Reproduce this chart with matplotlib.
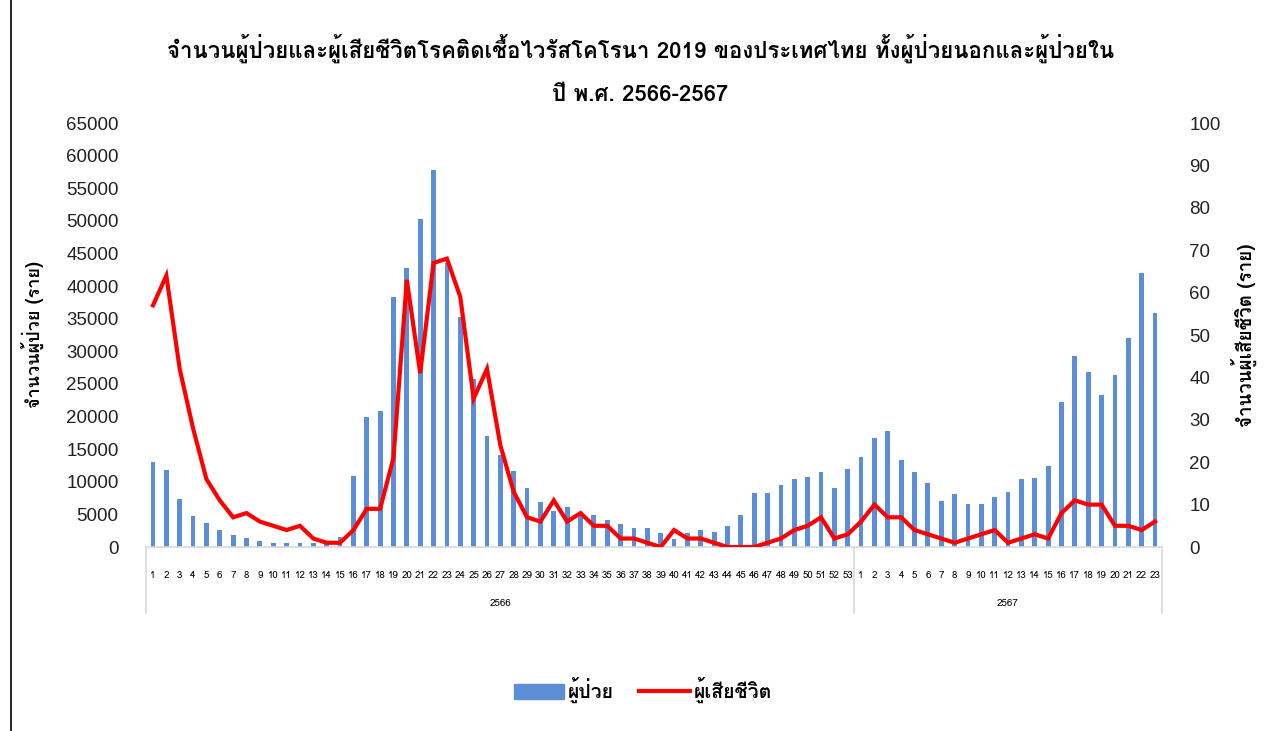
import matplotlib
matplotlib.use('Agg')
import matplotlib.pyplot as plt
import matplotlib.transforms as mtransforms
from matplotlib import font_manager
from fontTools.ttLib import TTFont

# หาฟอนต์ที่มีอักษรไทย
def find_thai_fonts():
    names = []
    for f in font_manager.fontManager.ttflist:
        try:
            tt = TTFont(f.fname, fontNumber=0, lazy=True)
            cmap = tt.getBestCmap()
            if cmap and 0x0E08 in cmap and f.name not in names:
                names.append(f.name)
        except Exception:
            pass
    return names

thai_fonts = find_thai_fonts()
FAMILY = thai_fonts + ['Liberation Sans', 'DejaVu Sans']
plt.rcParams['font.family'] = FAMILY

# ข้อมูล
years = ['2566', '2567']
weeks_2566 = list(range(1, 54))
weeks_2567 = list(range(1, 24))

patients_2566 = [13000, 11800, 7400, 4750, 3700, 2600, 1850, 1450, 900, 650,
                 600, 600, 650, 900, 1550, 10900, 19900, 20850, 38400, 42800,
                 50300, 57800, 43500, 35300, 25700, 17000, 14150, 11700, 9100, 6900,
                 5550, 6150, 5200, 4850, 4200, 3550, 2900, 2950, 2200, 1200,
                 2100, 2550, 2300, 3200, 4850, 8300, 8300, 9450, 10450, 10700,
                 11450, 9050, 11950]
patients_2567 = [13750, 16750, 17800, 13400, 11450, 9850, 7100, 8100, 6550, 6550,
                 7600, 8400, 10350, 10650, 12400, 22200, 29350, 26850, 23350, 26300,
                 32000, 41950, 35850]

deaths_2566 = [57, 64, 42, 28, 16, 11, 7, 8, 6, 5,
               4, 5, 2, 1, 1, 4, 9, 9, 21, 63,
               41, 67, 68, 59, 35, 42, 24, 13, 7, 6,
               11, 6, 8, 5, 5, 2, 2, 1, 0, 4,
               2, 2, 1, 0, 0, 0, 1, 2, 4, 5,
               7, 2, 3]
deaths_2567 = [6, 10, 7, 7, 4, 3, 2, 1, 2, 3,
               4, 1, 2, 3, 2, 8, 11, 10, 10, 5,
               5, 4, 6]

week_labels = [str(w) for w in weeks_2566 + weeks_2567]
patients = patients_2566 + patients_2567
deaths = deaths_2566 + deaths_2567
x = list(range(len(week_labels)))

title1 = 'จำนวนผู้ป่วยและผู้เสียชีวิตโรคติดเชื้อไวรัสโคโรนา 2019 ของประเทศไทย ทั้งผู้ป่วยนอกและผู้ป่วยใน'
title2 = 'ปี พ.ศ. 2566-2567'

# ตั้งค่ารูป
W, H = 1268, 731
fig = plt.figure(figsize=(W / 100, H / 100), dpi=100)
left, right, bottom, top = 146.3, 1161.7, 547, 123
ax = fig.add_axes([left / W, 1 - bottom / H, (right - left) / W, (bottom - top) / H])
ax2 = ax.twinx()

bar_color = '#5B8ED6'
ax.bar(x, patients, width=0.36, color=bar_color, zorder=2)
ax2.plot(x, deaths, color='#FF0000', lw=3, zorder=3, solid_joinstyle='miter')

ax.set_xlim(-0.5, len(x) - 0.5)
ax.set_ylim(0, 65000)
ax.set_yticks(range(0, 65001, 5000))
ax2.set_ylim(0, 100)
ax2.set_yticks(range(0, 101, 10))

for a in (ax, ax2):
    for s in a.spines.values():
        s.set_visible(False)
ax.spines['bottom'].set_visible(True)
ax.spines['bottom'].set_color('#D9D9D9')
ax.spines['bottom'].set_linewidth(1.2)

ax.tick_params(axis='y', length=0, pad=20, labelsize=13.5, labelcolor='#222222')
ax2.tick_params(axis='y', length=0, pad=20, labelsize=13.5, labelcolor='#222222')
for lab in ax.get_yticklabels() + ax2.get_yticklabels():
    lab.set_family(['Liberation Sans', 'DejaVu Sans'])

ax.set_xticks(x)
ax.set_xticklabels(week_labels, fontsize=7)
ax.tick_params(axis='x', length=0, pad=17)

# แกน x สองชั้น
trans = mtransforms.blended_transform_factory(ax.transData, ax.transAxes)
sep_y = -(613 - 547) / (bottom - top)
for xs in [-0.5, len(weeks_2566) - 0.5, len(x) - 0.5]:
    ax.plot([xs, xs], [0, sep_y], transform=trans, color='#D9D9D9', lw=1.2, clip_on=False)
ax.text((len(weeks_2566) - 1) / 2, -(603 - 547) / (bottom - top), years[0], transform=trans,
        ha='center', va='center', fontsize=7)
ax.text(len(weeks_2566) + (len(weeks_2567) - 1) / 2, -(603 - 547) / (bottom - top), years[1],
        transform=trans, ha='center', va='center', fontsize=7)

ax.set_ylabel('จำนวนผู้ป่วย (ราย)', fontsize=13, fontweight='bold', labelpad=16)
ax2.set_ylabel('จำนวนผู้เสียชีวิต (ราย)', fontsize=13.5, fontweight='bold', rotation=90, labelpad=7)

fig.text(0.505, 1 - 48 / H, title1, ha='center', va='center', fontsize=16, fontweight='bold')
fig.text(0.505, 1 - 95 / H, title2, ha='center', va='center', fontsize=16, fontweight='bold')

# คำอธิบายสัญลักษณ์
h1 = plt.Rectangle((0, 0), 1, 1, color=bar_color)
h2, = ax2.plot([], [], color='#FF0000', lw=3)
fig.legend([h1, h2], ['ผู้ป่วย', 'ผู้เสียชีวิต'], loc='center', bbox_to_anchor=(0.507, 1 - 690 / H),
           ncol=2, frameon=False, prop={'weight': 'bold', 'size': 14}, handlelength=2.6,
           handleheight=0.8, columnspacing=1.3, handletextpad=0.2)

# เส้นขอบซ้าย
fig.add_artist(plt.Line2D([10.5 / W, 10.5 / W], [0, 1], color='black', lw=1.2))

fig.savefig('out.png', dpi=100, facecolor='white')
